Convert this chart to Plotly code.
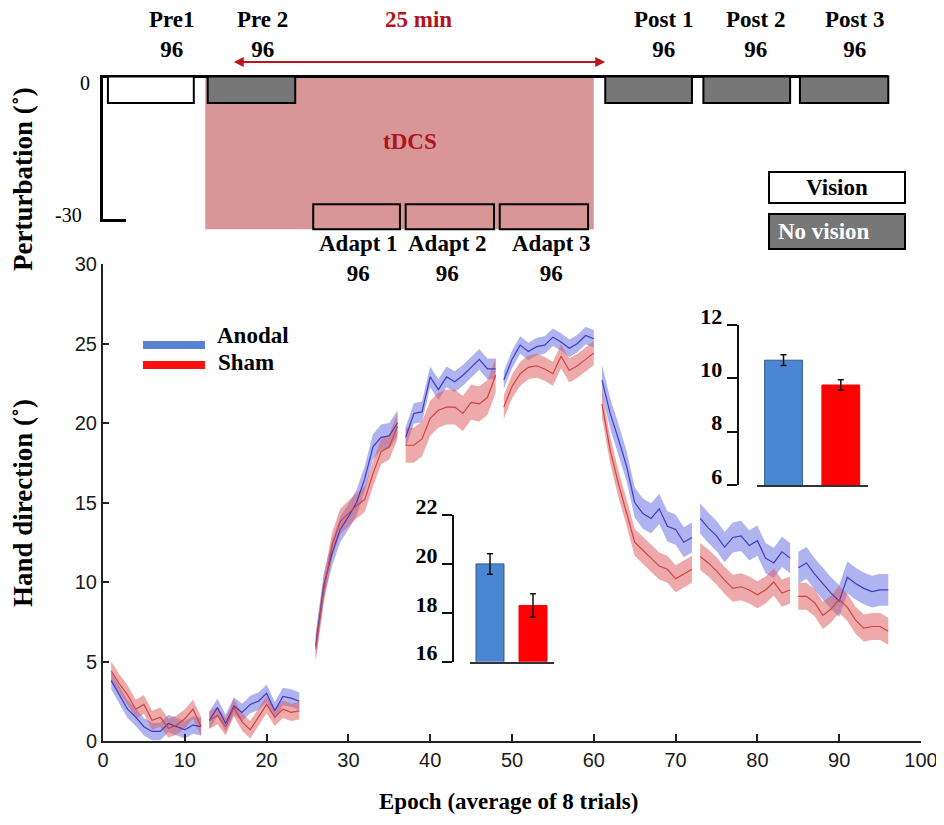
import plotly.graph_objects as go

W, H = 944, 825
OFF = 8  # the page body adds an 8px margin; layout positions compensate for it
def px(x):
    return (x - OFF) / W
def py(y):
    return 1 - (y - OFF) / H

SERIF = "Liberation Serif, Times New Roman, serif"
SANS = "Liberation Sans, Arial, sans-serif"

# ---------------- data ----------------
# protocol schematic (epoch units)
block_names = ["Pre1", "Pre 2", "Adapt 1", "Adapt 2", "Adapt 3", "Post 1", "Post 2", "Post 3"]
block_trials = [96, 96, 96, 96, 96, 96, 96, 96]
block_start = [0.6, 12.8, 25.7, 37.0, 48.5, 61.4, 73.4, 85.2]
block_end = [11.1, 23.5, 36.3, 47.8, 59.3, 72.0, 84.0, 96.0]
block_perturbation = [0, 0, -30, -30, -30, 0, 0, 0]
block_vision = [True, False, True, True, True, False, False, False]
tdcs_start, tdcs_end = 12.5, 60.0
arrow_start, arrow_end = 15.8, 61.4
tdcs_duration = "25 min"

# hand direction per epoch (mean) for each block
block_first_epoch = [1, 13, 26, 37, 49, 61, 73, 85]
anodal_blocks = [
    [3.8, 2.9, 2.0, 1.5, 0.9, 0.6, 0.6, 1.1, 0.9, 0.7, 1.0, 0.9],
    [1.3, 2.1, 1.1, 2.2, 1.8, 2.3, 2.5, 3.0, 1.9, 2.8, 2.7, 2.5],
    [6.0, 9.8, 11.8, 13.3, 14.1, 15.0, 16.5, 18.5, 19.1, 19.2, 20.0],
    [19.1, 20.6, 20.7, 22.9, 22.1, 22.9, 22.6, 23.0, 23.5, 24.0, 23.4, 23.4],
    [22.7, 24.0, 24.9, 24.5, 24.8, 24.9, 25.4, 25.1, 24.7, 25.0, 25.5, 25.3],
    [22.7, 20.6, 19.0, 17.3, 15.0, 14.3, 14.0, 14.6, 13.5, 13.3, 12.5, 12.8],
    [14.0, 13.4, 12.9, 12.2, 12.8, 12.9, 12.3, 12.6, 11.5, 11.2, 11.9, 11.5],
    [10.9, 11.2, 10.5, 9.9, 9.3, 8.8, 10.3, 9.9, 9.6, 9.4, 9.5, 9.5],
]
sham_blocks = [
    [4.4, 3.6, 2.9, 2.0, 2.3, 1.3, 1.5, 0.8, 1.0, 1.4, 2.0, 0.9],
    [1.3, 1.6, 0.9, 2.1, 1.2, 0.7, 1.5, 2.3, 1.5, 2.0, 1.8, 1.9],
    [5.8, 9.5, 12.3, 13.8, 14.3, 14.8, 15.2, 16.8, 18.2, 18.5, 19.8],
    [18.6, 18.6, 19.0, 20.3, 20.8, 21.0, 21.0, 20.6, 21.3, 21.2, 21.6, 23.0],
    [21.0, 22.3, 23.1, 23.5, 23.6, 23.4, 23.1, 24.2, 23.3, 23.6, 24.0, 24.4],
    [21.2, 18.3, 16.2, 14.4, 12.5, 12.0, 11.5, 11.0, 10.8, 10.2, 10.5, 10.8],
    [11.6, 11.2, 10.7, 10.1, 9.6, 9.7, 9.5, 9.2, 9.5, 10.0, 9.3, 9.5],
    [9.1, 9.1, 8.7, 7.9, 8.3, 8.9, 8.4, 7.6, 7.1, 7.2, 7.2, 6.9],
]
# standard error per block
anodal_se = [0.55, 0.55, 0.8, 0.65, 0.55, 0.95, 0.95, 1.0]
sham_se = [0.6, 0.55, 0.8, 1.1, 0.75, 0.85, 0.85, 0.85]

# inset bar charts
groups = ["Anodal", "Sham"]
adapt_mean = [20.0, 18.3]
adapt_err = [0.42, 0.48]
post_mean = [10.68, 9.75]
post_err = [0.2, 0.2]

x_ticks = [0, 10, 20, 30, 40, 50, 60, 70, 80, 90, 100]
y_ticks = [0, 5, 10, 15, 20, 25, 30]

# ---------------- styles ----------------
BLUE_LINE = "#3c3cc8"
RED_LINE = "#cf4444"
BLUE_BAND = "rgba(95,105,225,0.5)"
RED_BAND = "rgba(222,85,85,0.5)"
BAR_BLUE = "#4a86d2"
BAR_RED = "#ff0000"

fig = go.Figure()

def series(blocks, se):
    lx, ly, bx, by = [], [], [], []
    for first, vals, s in zip(block_first_epoch, blocks, se):
        xs = [first + i for i in range(len(vals))]
        lx += xs + [None]
        ly += vals + [None]
        bx += xs + xs[::-1] + [None]
        by += [v + s for v in vals] + [v - s for v in vals][::-1] + [None]
    return lx, ly, bx, by

a_lx, a_ly, a_bx, a_by = series(anodal_blocks, anodal_se)
s_lx, s_ly, s_bx, s_by = series(sham_blocks, sham_se)

fig.add_trace(go.Scatter(x=a_bx, y=a_by, fill="toself", fillcolor=BLUE_BAND,
                         line=dict(width=0), mode="lines", hoverinfo="skip",
                         showlegend=False))
fig.add_trace(go.Scatter(x=s_bx, y=s_by, fill="toself", fillcolor=RED_BAND,
                         line=dict(width=0), mode="lines", hoverinfo="skip",
                         showlegend=False))
fig.add_trace(go.Scatter(x=a_lx, y=a_ly, mode="lines", line=dict(color=BLUE_LINE, width=1.2),
                         name="Anodal", showlegend=False))
fig.add_trace(go.Scatter(x=s_lx, y=s_ly, mode="lines", line=dict(color=RED_LINE, width=1.2),
                         name="Sham", showlegend=False))

# dummy trace to create the schematic subplot (x, y2)
fig.add_trace(go.Scatter(x=[50], y=[0], xaxis="x", yaxis="y2", mode="markers",
                         marker=dict(opacity=0), hoverinfo="skip", showlegend=False))

# inset bars
fig.add_trace(go.Bar(x=[0, 1], y=adapt_mean, width=0.65, xaxis="x3", yaxis="y3",
                     marker=dict(color=[BAR_BLUE, BAR_RED],
                                 line=dict(color=["#2f5a90", BAR_RED], width=1)),
                     error_y=dict(type="data", array=adapt_err, color="#111",
                                  thickness=1.5, width=3),
                     showlegend=False))
fig.add_trace(go.Bar(x=[0, 1], y=post_mean, width=0.66, xaxis="x4", yaxis="y4",
                     marker=dict(color=[BAR_BLUE, BAR_RED],
                                 line=dict(color=["#2f5a90", BAR_RED], width=1)),
                     error_y=dict(type="data", array=post_err, color="#111",
                                  thickness=1.5, width=3),
                     showlegend=False))

shapes = []
annotations = []

def note(x, y, text, size=23, color="black", bold=True, xref="paper", yref="paper",
         xanchor="center", yanchor="middle", **kw):
    f = dict(family=SERIF, size=size, color=color)
    if bold:
        f["weight"] = "bold"
    d = dict(x=x, y=y, xref=xref, yref=yref, text=text, showarrow=False,
             xanchor=xanchor, yanchor=yanchor, font=f)
    d.update(kw)
    annotations.append(d)

# ---- schematic ----
shapes.append(dict(type="rect", xref="x", yref="y2", x0=tdcs_start, x1=tdcs_end,
                   y0=0, y1=-31.8, fillcolor="rgb(217,150,150)", line=dict(width=0),
                   layer="above"))
shapes.append(dict(type="line", xref="x", yref="y2", x0=0, x1=block_end[-1], y0=0, y1=0,
                   line=dict(color="black", width=3)))
shapes.append(dict(type="line", xref="paper", yref="y2", x0=px(101.5), x1=px(101.5),
                   y0=0.3, y1=-30, line=dict(color="black", width=3)))
shapes.append(dict(type="line", xref="paper", yref="y2", x0=px(100), x1=px(126),
                   y0=-30, y1=-30, line=dict(color="black", width=3)))
for s, e, p, v in zip(block_start, block_end, block_perturbation, block_vision):
    in_tdcs = s >= tdcs_start and e <= tdcs_end
    if v:
        fill = "rgba(0,0,0,0)" if in_tdcs else "white"
    else:
        fill = "#777777"
    if p == 0:
        y0, y1 = 0, -5.5
    else:
        y0, y1 = p + 3.4, p - 1.8
    shapes.append(dict(type="rect", xref="x", yref="y2", x0=s, x1=e, y0=y0, y1=y1,
                       fillcolor=fill, line=dict(color="black", width=2)))

label_shift = [21, 11, 2, -2, 8, 15, 9, 10]
for name, n, s, e, p, sh in zip(block_names, block_trials, block_start, block_end,
                                 block_perturbation, label_shift):
    ypos = py(35) if p == 0 else py(258.5)
    note((s + e) / 2, ypos, f"{name}<br>{n}", xref="x", xshift=sh, align="center")

annotations.append(dict(x=arrow_end, y=3.0, xref="x", yref="y2", ax=arrow_start, ay=3.0,
                        axref="x", ayref="y2", text="", showarrow=True, arrowhead=2,
                        arrowside="end+start", arrowsize=1, arrowwidth=2,
                        arrowcolor="#c0141c"))
note((arrow_start + arrow_end) / 2, py(20), tdcs_duration, color="#b0141c", xref="x")
note((tdcs_start + tdcs_end) / 2, py(142), "tDCS", color="#b0141c", xref="x", xshift=10)
note(px(92), py(83), "0", size=20, bold=False, xanchor="right")
note(px(84), py(215), "-30", size=20, bold=False, xanchor="right")

# vision legend
shapes.append(dict(type="rect", xref="paper", yref="paper", x0=px(769), x1=px(905),
                   y0=py(172), y1=py(203), fillcolor="white", line=dict(color="black", width=2)))
shapes.append(dict(type="rect", xref="paper", yref="paper", x0=px(769), x1=px(905),
                   y0=py(214), y1=py(249), fillcolor="#777777", line=dict(color="black", width=2)))
note(px(837), py(187), "Vision")
note(px(776), py(232), "No vision", color="white", xanchor="left")

# series legend
shapes.append(dict(type="line", xref="paper", yref="paper", x0=px(143), x1=px(205),
                   y0=py(345), y1=py(345), line=dict(color="#5a82d2", width=8)))
shapes.append(dict(type="line", xref="paper", yref="paper", x0=px(143), x1=px(205),
                   y0=py(365), y1=py(365), line=dict(color="#ff1010", width=8)))
note(px(215), py(335), groups[0], xanchor="left")
note(px(216), py(362), groups[1], xanchor="left")

# axis titles
note(px(508), py(801), "Epoch (average of 8 trials)")
note(px(23), py(503), "Hand direction (˚)", size=27, textangle=-90)
note(px(23), py(179), "Perturbation (˚)", size=27, textangle=-90)

axis_common = dict(showgrid=False, zeroline=False, showline=True, linecolor="#222",
                   linewidth=2, automargin=False)
inset_tick_font = dict(family=SERIF, size=22, color="black", weight="bold")

fig.update_layout(
    width=W, height=H, autosize=False,
    margin=dict(l=0, r=0, t=0, b=0, pad=0),
    paper_bgcolor="white", plot_bgcolor="rgba(0,0,0,0)",
    showlegend=False,
    xaxis=dict(domain=[px(103), px(921)], range=[0, 100], tickvals=x_ticks,
               ticks="inside", ticklen=7, tickwidth=1.5, tickcolor="#222",
               tickfont=dict(family=SANS, size=20, color="#1a1a1a"), anchor="y",
               **axis_common),
    yaxis=dict(domain=[py(741), py(264)], range=[0, 30], tickvals=y_ticks,
               ticks="inside", ticklen=6, tickwidth=1.5, tickcolor="#222",
               tickfont=dict(family=SANS, size=20, color="#1a1a1a"), anchor="x",
               **axis_common),
    yaxis2=dict(domain=[py(240), py(55)], range=[-34.06, 4.48], visible=False,
                anchor="x", showgrid=False, zeroline=False, automargin=False),
    xaxis3=dict(domain=[px(470), px(554)], range=[-0.465, 1.488], anchor="y3",
                showticklabels=False, ticks="", showgrid=False, zeroline=False,
                showline=True, linecolor="#333", linewidth=2, automargin=False),
    yaxis3=dict(domain=[py(661.7), py(515)], range=[16, 22], tickvals=[16, 18, 20, 22],
                anchor="free", position=px(453), ticks="outside", ticklen=10,
                tickwidth=2, tickcolor="#111", tickfont=inset_tick_font,
                ticklabelshift=-9, ticklabelstandoff=0,
                showgrid=False, zeroline=False, showline=True, linecolor="#111",
                linewidth=2, automargin=False),
    xaxis4=dict(domain=[px(756.7), px(868.3)], range=[-0.468, 1.48], anchor="y4",
                showticklabels=False, ticks="", showgrid=False, zeroline=False,
                showline=True, linecolor="#333", linewidth=2, automargin=False),
    yaxis4=dict(domain=[py(485), py(325)], range=[6, 12], tickvals=[6, 8, 10, 12],
                anchor="free", position=px(737.7), ticks="outside", ticklen=10,
                tickwidth=2, tickcolor="#111", tickfont=inset_tick_font,
                ticklabelshift=-9, ticklabelstandoff=0,
                showgrid=False, zeroline=False, showline=True, linecolor="#111",
                linewidth=2, automargin=False),
    shapes=shapes,
    annotations=annotations,
)

fig.write_html("out.html")
